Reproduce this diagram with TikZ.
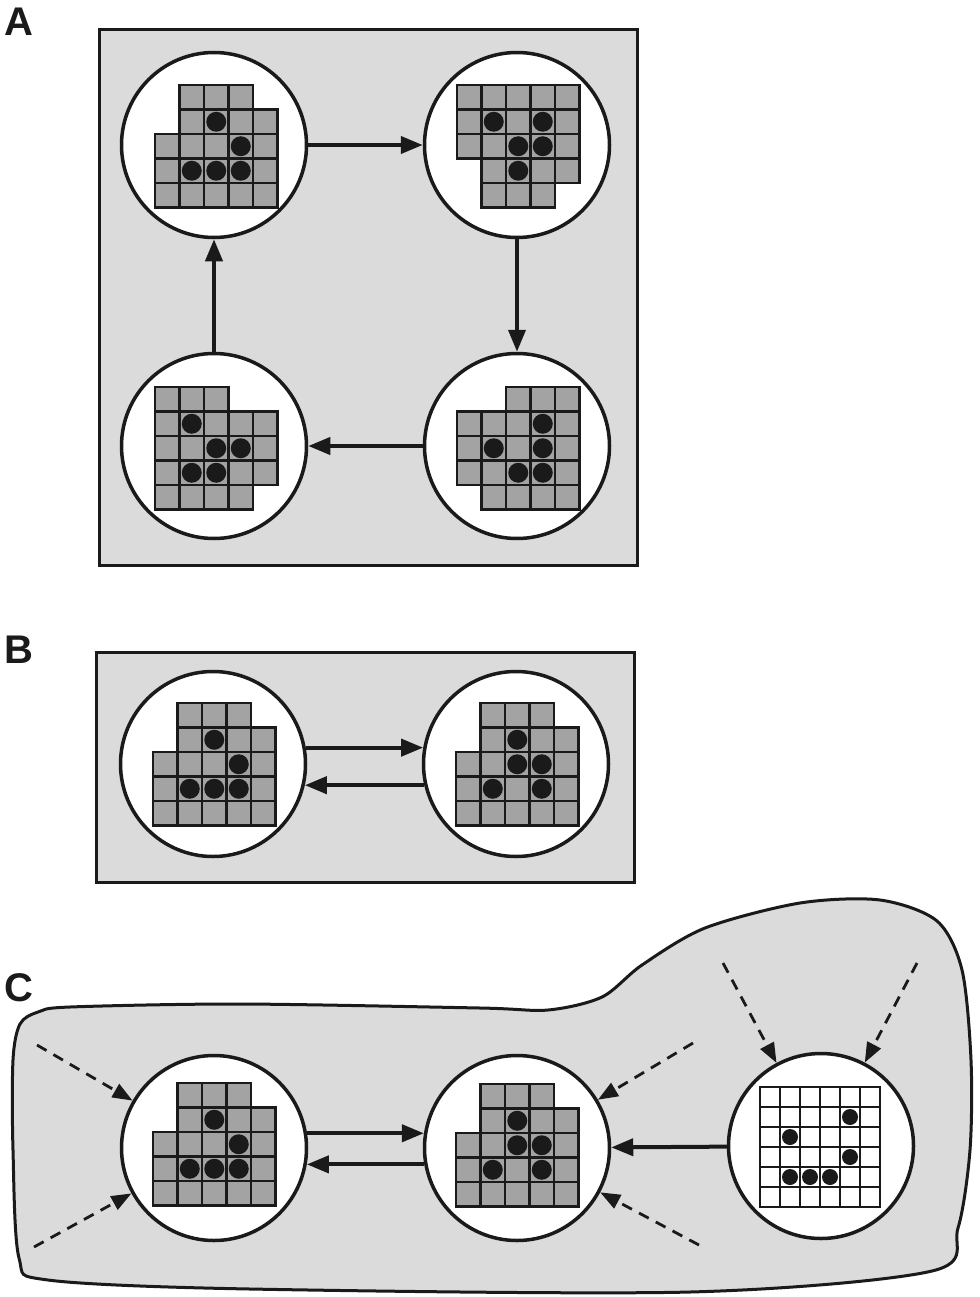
\documentclass[tikz,border=0pt]{standalone}
\usepackage{fontspec}
\newfontfamily\labfont{Liberation Sans}
\usetikzlibrary{arrows.meta}
\definecolor{bggray}{HTML}{DBDBDB}
\definecolor{cellgray}{HTML}{A3A3A3}
\definecolor{ink}{HTML}{1A1A1A}
\tikzset{
  panel/.style={draw=ink, line width=3pt, fill=bggray},
  state/.style={circle, draw=ink, line width=3.5pt, fill=white, minimum size=185pt, inner sep=0pt},
  cellline/.style={draw=ink, line width=2.6pt},
  conn/.style={draw=ink, line width=4pt, -{Triangle[length=22pt,width=17pt]}},
  dasharrow/.style={draw=ink, line width=2.8pt, dash pattern=on 11pt off 8pt, -{Triangle[length=20pt,width=15pt]}},
  panellabel/.style={font=\labfont\bfseries\fontsize{40}{40}\selectfont, inner sep=0pt, text=ink}
}
% #1 x0, #2 y0, #3 cell size, #4 rows r/c1/c2, #5 dots r/c, #6 fill, #7 dot radius
\newcommand\lifegrid[7]{%
  \foreach \rr/\ca/\cb in {#4}{%
    \foreach \cc in {\ca,...,\cb}{%
      \draw[cellline, fill=#6] ({#1+\cc*#3},{#2+\rr*#3}) rectangle ++(#3,#3);
    }%
  }%
  \foreach \rr/\cc in {#5}{%
    \fill[ink] ({#1+(\cc+0.5)*#3},{#2+(\rr+0.5)*#3}) circle[radius=#7pt];
  }%
}
\begin{document}
\begin{tikzpicture}[x=1pt,y=-1pt]
\useasboundingbox (0,0) rectangle (979,1297);

% labels
\node[panellabel] (labA) at (19,22) {A};
\node[panellabel] (labB) at (19,650) {B};
\node[panellabel] (labC) at (19,988) {C};

% panel backgrounds
\draw[panel] (99,30) rectangle (637,565);
\draw[panel] (96,652) rectangle (634,882);
\draw[panel] plot[smooth cycle, tension=0.5] coordinates {
  (70,1007) (240,1004) (480,1008) (548,1010) (602,997) (642,965)
  (705,928) (800,903) (880,900) (937,921) (962,970) (971,1060)
  (970,1150) (958,1228) (932,1271) (690,1292) (250,1289) (48,1280)
  (19,1258) (13,1150) (13,1060) (20,1024) (38,1012)};

% ---------- A ----------
\node[state] (a1) at (214,145) {};
\node[state] (a2) at (517,145) {};
\node[state] (a3) at (214,446) {};
\node[state] (a4) at (517,446) {};
\lifegrid{155}{85}{24.5}{0/1/3,1/1/4,2/0/4,3/0/4,4/0/4}{1/2,2/3,3/1,3/2,3/3}{cellgray}{10}
\lifegrid{457}{85}{24.5}{0/0/4,1/0/4,2/0/4,3/1/4,4/1/3}{1/1,1/3,2/2,2/3,3/2}{cellgray}{10}
\lifegrid{155}{387}{24.5}{0/0/2,1/0/4,2/0/4,3/0/4,4/0/3}{1/1,2/2,2/3,3/1,3/2}{cellgray}{10}
\lifegrid{457}{387}{24.5}{0/2/4,1/0/4,2/0/4,3/0/4,4/1/4}{1/3,2/1,2/3,3/2,3/3}{cellgray}{10}
\draw[conn] (a1) -- (a2);
\draw[conn] (a2) -- (a4);
\draw[conn] (a4) -- (a3);
\draw[conn] (a3) -- (a1);

% ---------- B ----------
\node[state] (b1) at (213,764) {};
\node[state] (b2) at (516,764) {};
\lifegrid{153}{703}{24.5}{0/1/3,1/1/4,2/0/4,3/0/4,4/0/4}{1/2,2/3,3/1,3/2,3/3}{cellgray}{10}
\lifegrid{456}{703}{24.5}{0/1/3,1/1/4,2/0/4,3/0/4,4/0/4}{1/2,2/2,2/3,3/1,3/3}{cellgray}{10}
\draw[conn] (b1.10) -- (b2.170);
\draw[conn] (b2.193) -- (b1.-13);

% ---------- C ----------
\node[state] (c1) at (214,1148) {};
\node[state] (c2) at (517,1148) {};
\node[state] (c3) at (821,1146) {};
\lifegrid{153}{1083}{24.5}{0/1/3,1/1/4,2/0/4,3/0/4,4/0/4}{1/2,2/3,3/1,3/2,3/3}{cellgray}{10}
\lifegrid{456}{1084}{24.5}{0/1/3,1/1/4,2/0/4,3/0/4,4/0/4}{1/2,2/2,2/3,3/1,3/3}{cellgray}{10}
\lifegrid{760}{1087}{20}{0/0/5,1/0/5,2/0/5,3/0/5,4/0/5,5/0/5}{1/4,2/1,3/4,4/1,4/2,4/3}{white}{8}
\draw[conn] (c1.9) -- (c2.171);
\draw[conn] (c2.190.5) -- (c1.-10.5);
\draw[conn] (c3) -- (c2);

\coordinate (s1) at (37,1045);
\coordinate (s2) at (34,1247);
\coordinate (s3) at (693,1043);
\coordinate (s4) at (699,1245);
\coordinate (s5) at (723,963);
\coordinate (s6) at (917,963);
\draw[dasharrow] (s1) -- (c1);
\draw[dasharrow] (s2) -- (c1);
\draw[dasharrow] (s3) -- (c2);
\draw[dasharrow] (s4) -- (c2);
\draw[dasharrow] (s5) -- (c3);
\draw[dasharrow] (s6) -- (c3);
\end{tikzpicture}
\end{document}
